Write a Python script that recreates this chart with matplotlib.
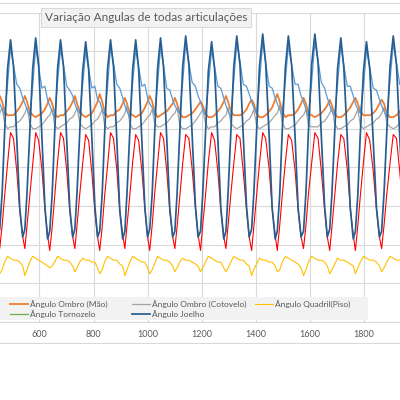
import matplotlib
matplotlib.use("Agg")
import matplotlib.pyplot as plt
from matplotlib.lines import Line2D
from matplotlib.patches import Rectangle

plt.rcParams['font.family'] = ['Lato', 'DejaVu Sans']

titulo = "Variação Angulas de todas articulações"

# frame positions, one row per gait cycle (starting at the knee peak)
frames = [
    445, 453, 462, 471, 482,
    493, 504, 516, 527, 538, 546, 554, 564, 575,
    586, 597, 609, 620, 630, 638, 647, 656, 667,
    678, 689, 701, 712, 723, 731, 739, 749, 760,
    771, 782, 794, 805, 815, 823, 832, 841, 852,
    863, 874, 886, 897, 908, 916, 924, 934, 945,
    956, 967, 979, 990, 1000, 1008, 1017, 1026, 1037,
    1048, 1059, 1071, 1082, 1093, 1101, 1109, 1119, 1130,
    1141, 1153, 1165, 1177, 1187, 1196, 1204, 1214, 1225,
    1237, 1248, 1260, 1271, 1282, 1290, 1298, 1308, 1319,
    1330, 1342, 1354, 1366, 1376, 1385, 1393, 1403, 1414,
    1426, 1437, 1450, 1461, 1472, 1480, 1489, 1498, 1510,
    1521, 1533, 1546, 1557, 1568, 1577, 1586, 1595, 1607,
    1619, 1631, 1643, 1655, 1665, 1674, 1682, 1692, 1703,
    1715, 1726, 1739, 1750, 1761, 1769, 1778, 1787, 1799,
    1810, 1822, 1835, 1847, 1858, 1866, 1875, 1885, 1897,
    1909, 1921, 1933, 1945,
]

joelho = [
    44, 48, 67, 98, 131,
    146, 132, 95, 59, 44, 48, 67, 98, 131,
    147, 133, 96, 60, 43, 47, 66, 97, 131,
    146, 132, 94, 59, 44, 48, 67, 98, 130,
    145, 131, 95, 60, 44, 47, 66, 97, 131,
    146, 132, 95, 58, 43, 47, 67, 98, 131,
    146, 131, 94, 59, 44, 48, 66, 97, 131,
    147, 132, 95, 59, 44, 47, 66, 98, 132,
    148, 133, 96, 60, 44, 47, 66, 97, 130,
    145, 131, 95, 59, 43, 47, 67, 98, 132,
    148, 133, 96, 60, 44, 48, 66, 97, 132,
    149, 134, 96, 59, 43, 47, 66, 98, 132,
    148, 133, 95, 59, 44, 47, 67, 98, 133,
    149, 134, 96, 60, 44, 48, 66, 97, 131,
    147, 132, 95, 59, 43, 47, 66, 97, 130,
    145, 131, 94, 59, 44, 47, 67, 98, 132,
    148, 133, 96, 60,
]

vermelho = [
    44, 38, 50, 65, 82,
    98, 95, 78, 58, 44, 38, 50, 65, 82,
    98, 94, 79, 59, 45, 37, 49, 64, 83,
    98, 95, 78, 58, 44, 38, 50, 66, 82,
    97, 94, 77, 57, 44, 37, 49, 65, 81,
    98, 95, 79, 58, 45, 38, 50, 65, 83,
    97, 94, 78, 59, 44, 37, 50, 66, 82,
    98, 95, 78, 58, 44, 38, 49, 65, 82,
    97, 95, 79, 59, 45, 37, 50, 65, 83,
    98, 94, 78, 58, 44, 38, 50, 66, 82,
    97, 95, 78, 58, 44, 37, 49, 65, 82,
    98, 95, 79, 59, 45, 37, 50, 65, 83,
    97, 94, 78, 58, 44, 38, 50, 66, 82,
    98, 95, 78, 58, 44, 37, 49, 65, 82,
    97, 95, 79, 59, 45, 37, 50, 65, 83,
    98, 94, 78, 58, 44, 38, 50, 66, 82,
    97, 95, 78, 58,
]

azul_claro = [
    115, 113, 110, 107, 123,
    142, 133, 123, 121, 116, 113, 110, 107, 122,
    142, 132, 121, 122, 115, 112, 109, 106, 124,
    141, 133, 122, 120, 117, 113, 110, 108, 123,
    140, 131, 121, 122, 115, 114, 110, 107, 122,
    142, 134, 123, 121, 116, 112, 109, 106, 124,
    141, 132, 122, 123, 116, 113, 111, 107, 123,
    142, 133, 121, 120, 115, 112, 110, 108, 124,
    144, 134, 124, 122, 117, 114, 110, 107, 122,
    141, 132, 122, 121, 116, 112, 109, 106, 125,
    144, 135, 123, 122, 118, 114, 111, 108, 124,
    145, 134, 122, 121, 116, 113, 110, 107, 125,
    143, 133, 123, 123, 117, 114, 110, 106, 124,
    145, 135, 124, 121, 116, 112, 109, 107, 123,
    143, 133, 122, 122, 117, 113, 110, 108, 122,
    141, 132, 121, 120, 115, 112, 109, 106, 125,
    144, 134, 123, 121,
]

ombro_mao = [
    114, 117, 114, 109, 107,
    107, 107, 109, 111, 114, 117, 114, 109, 107,
    106, 107, 108, 110, 113, 116, 113, 108, 106,
    107, 107, 109, 111, 114, 117, 113, 109, 107,
    106, 107, 108, 111, 114, 118, 114, 109, 106,
    107, 107, 109, 110, 113, 116, 113, 108, 107,
    106, 107, 108, 111, 114, 117, 114, 109, 106,
    107, 108, 109, 111, 113, 116, 113, 108, 106,
    106, 107, 108, 110, 112, 114, 112, 108, 106,
    106, 107, 109, 111, 114, 117, 114, 109, 107,
    107, 107, 108, 110, 113, 115, 113, 108, 106,
    106, 107, 109, 111, 115, 118, 114, 109, 106,
    107, 107, 108, 110, 113, 116, 113, 108, 107,
    106, 107, 108, 110, 112, 115, 112, 108, 106,
    106, 107, 109, 111, 114, 116, 113, 109, 107,
    107, 107, 108, 110, 113, 115, 113, 108, 106,
    106, 107, 109, 111,
]

ombro_cotovelo = [
    106, 108, 111, 103, 100,
    101, 101, 103, 104, 106, 108, 111, 103, 100,
    100, 101, 102, 104, 106, 107, 110, 102, 100,
    101, 102, 103, 105, 106, 108, 111, 103, 101,
    100, 101, 102, 104, 105, 107, 110, 102, 100,
    101, 101, 103, 104, 106, 108, 112, 103, 100,
    100, 101, 102, 104, 106, 107, 110, 103, 101,
    101, 102, 103, 105, 107, 108, 111, 102, 100,
    100, 101, 102, 104, 106, 108, 110, 103, 100,
    101, 101, 103, 104, 106, 107, 111, 103, 101,
    100, 101, 102, 104, 105, 107, 110, 102, 100,
    101, 102, 103, 105, 107, 108, 112, 103, 100,
    100, 101, 102, 104, 106, 107, 110, 102, 101,
    101, 101, 103, 104, 106, 108, 111, 103, 100,
    100, 101, 102, 104, 105, 107, 110, 102, 100,
    101, 102, 103, 105, 106, 108, 111, 103, 101,
    100, 101, 103, 104,
]

quadril_piso = [
    29, 25, 27, 31, 34,
    33, 32, 32, 31, 29, 24, 27, 31, 34,
    33, 32, 31, 30, 29, 28, 29, 31, 34,
    33, 32, 32, 31, 29, 26, 28, 31, 33,
    32, 32, 31, 31, 28, 25, 27, 31, 34,
    33, 32, 32, 30, 29, 24, 27, 31, 34,
    33, 32, 31, 31, 28, 25, 27, 30, 34,
    33, 32, 32, 31, 29, 26, 28, 31, 33,
    32, 32, 31, 30, 29, 26, 28, 31, 34,
    33, 32, 31, 31, 28, 26, 28, 31, 34,
    33, 32, 32, 30, 29, 24, 27, 30, 33,
    32, 32, 31, 31, 29, 26, 27, 31, 34,
    33, 32, 31, 30, 28, 24, 27, 31, 34,
    33, 32, 32, 31, 29, 25, 27, 30, 33,
    32, 32, 31, 30, 29, 25, 28, 31, 34,
    33, 32, 32, 31, 29, 26, 28, 31, 34,
    33, 32, 32, 31,
]

cinza_linhas = '#D9D9D9'
texto_cor = '#595959'

fig = plt.figure(figsize=(4, 4), dpi=100)
ax = fig.add_axes([0, 0.195, 1, 0.773])

ax.plot(frames, vermelho, color='#FF0000', lw=0.8)
ax.plot(frames, ombro_mao, color='#ED7D31', lw=1.3)
ax.plot(frames, ombro_cotovelo, color='#A5A5A5', lw=0.9)
ax.plot(frames, quadril_piso, color='#FFC000', lw=0.8)
ax.plot(frames, azul_claro, color='#5B9BD5', lw=0.9)
ax.plot(frames, joelho, color='#255E91', lw=1.25)

ax.set_xlim(454, 1934)
ax.set_ylim(0, 160)
ax.set_xticks(range(600, 1801, 200))
ax.set_yticks(range(0, 161, 20))
ax.grid(True, color=cinza_linhas, lw=0.8)
ax.set_axisbelow(True)
for s in ['top', 'left', 'right']:
    ax.spines[s].set_visible(False)
ax.spines['bottom'].set_color(cinza_linhas)
ax.tick_params(axis='y', left=False, labelleft=False)
ax.tick_params(axis='x', length=0, pad=6, labelsize=6.5, labelcolor=texto_cor)

# outer chart border lines
for y in [1 - 3 / 400, 1 - 343 / 400]:
    fig.add_artist(Line2D([0, 1], [y, y], color=cinza_linhas, lw=0.8))

fig.text(146 / 400, 1 - 17.5 / 400, titulo, ha='center', va='center',
         fontsize=8.5, color=texto_cor,
         bbox=dict(boxstyle='square,pad=0.3', fc='#F2F2F2', ec=cinza_linhas, lw=0.8))

# legend box inside the plot area
fig.add_artist(Rectangle((0, 80 / 400), 368 / 400, 23 / 400, transform=fig.transFigure,
                         fc='#F2F2F2', ec='none', zorder=3))
legenda = [
    ("Ângulo Ombro (Mão)", '#ED7D31', 1.3, 0, 0),
    ("Ângulo Ombro (Cotovelo)", '#A5A5A5', 0.9, 1, 0),
    ("Ângulo Quadril(Piso)", '#FFC000', 0.8, 2, 0),
    ("Ângulo Tornozelo", '#70AD47', 0.9, 0, 1),
    ("Ângulo Joelho", '#255E91', 1.25, 1, 1),
]
col_x = [10, 131.7, 255]
row_y = [304, 314]
for nome, cor, lw, c, r in legenda:
    y = 1 - row_y[r] / 400
    x0 = col_x[c] / 400
    fig.add_artist(Line2D([x0, x0 + 18 / 400], [y, y], color=cor, lw=lw, zorder=4))
    fig.text(x0 + 20 / 400, y, nome, ha='left', va='center', fontsize=6,
             color=texto_cor, zorder=4)

fig.savefig('out.png', dpi=100)
